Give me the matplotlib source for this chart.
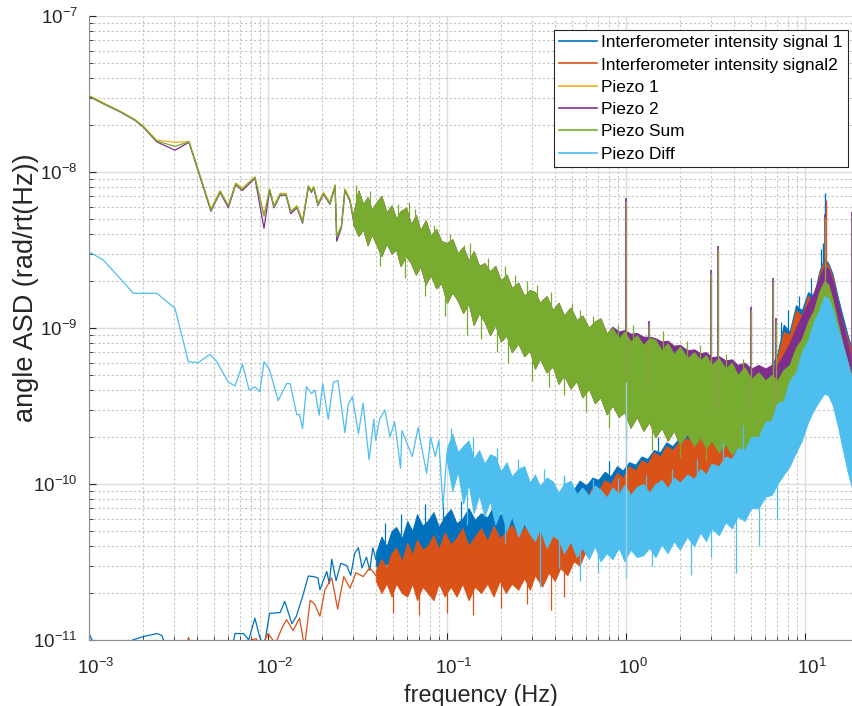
import matplotlib
matplotlib.use("Agg")
import matplotlib.pyplot as plt
import matplotlib.transforms as mtrans
import numpy as np

plt.rcParams['font.family'] = ['Liberation Sans', 'DejaVu Sans']
plt.rcParams['mathtext.fontset'] = 'custom'
plt.rcParams['mathtext.rm'] = 'Liberation Sans'

# --- colores tipo MATLAB ---
c_int1 = '#0072BD'
c_int2 = '#D95319'
c_pz1 = '#EDB120'
c_pz2 = '#7E2F8E'
c_sum = '#77AC30'
c_diff = '#4DBEEE'

labels = ['Interferometer intensity signal 1', 'Interferometer intensity signal2',
          'Piezo 1', 'Piezo 2', 'Piezo Sum', 'Piezo Diff']
x_ticks = [1e-3, 1e-2, 1e-1, 1e0, 1e1]

# ---------------- datos ----------------
# zona de baja frecuencia: puntos sueltos (rad/rt(Hz))
int1_f = [1.0e-3, 1.05e-3, 1.3e-3, 1.6e-3, 1.75e-3, 2.0e-3, 2.4e-3, 2.55e-3, 2.7e-3, 3.5e-3,
          5e-3, 6.3e-3, 6.55e-3, 7.3e-3, 7.8e-3, 8.45e-3, 9.0e-3, 9.5e-3, 1.02e-2, 1.17e-2,
          1.24e-2, 1.36e-2, 1.44e-2, 1.56e-2, 1.68e-2, 1.8e-2, 1.9e-2, 1.95e-2, 2.13e-2, 2.2e-2,
          2.27e-2, 2.4e-2, 2.55e-2, 2.75e-2, 2.9e-2, 3.05e-2, 3.2e-2, 3.35e-2, 3.55e-2, 3.7e-2,
          3.85e-2, 4.0e-2]
int1_v = [1.1e-11, 9.8e-12, 7e-12, 8e-12, 1.0e-11, 1.05e-11, 1.1e-11, 1.07e-11, 9e-12, 6e-12,
          7e-12, 9e-12, 1.1e-11, 1.1e-11, 1.0e-11, 1.38e-11, 1.04e-11, 9e-12, 1.48e-11, 1.5e-11,
          1.77e-11, 1.27e-11, 1.42e-11, 1.9e-11, 2.57e-11, 2.55e-11, 2.5e-11, 2.1e-11, 2.75e-11, 2.3e-11,
          3.3e-11, 2.4e-11, 3.1e-11, 3.0e-11, 2.6e-11, 3.6e-11, 3.9e-11, 2.9e-11, 3.4e-11, 2.8e-11,
          3.9e-11, 3.3e-11]

int2_f = [3.4e-3, 3.6e-3, 3.8e-3, 7.5e-3, 8e-3, 8.6e-3, 9.2e-3, 1.0e-2, 1.1e-2, 1.2e-2,
          1.27e-2, 1.38e-2, 1.5e-2, 1.6e-2, 1.72e-2, 1.82e-2, 1.95e-2, 2.08e-2, 2.27e-2, 2.45e-2,
          2.65e-2, 2.87e-2, 3.1e-2, 3.4e-2, 3.7e-2, 4.0e-2]
int2_v = [8e-12, 1.04e-11, 8e-12, 9e-12, 1.0e-11, 1.02e-11, 9e-12, 1.1e-11, 9.5e-12, 1.2e-11,
          1.35e-11, 1.15e-11, 1.38e-11, 9e-12, 1.8e-11, 1.7e-11, 1.42e-11, 2.1e-11, 2.5e-11, 1.58e-11,
          2.55e-11, 2.15e-11, 2.7e-11, 2.55e-11, 2.9e-11, 2.6e-11]

pz_f = [1.0e-3, 1.2e-3, 1.49e-3, 1.81e-3, 2.01e-3, 2.39e-3, 3.02e-3, 3.62e-3, 4.8e-3, 5.4e-3,
        6.0e-3, 6.6e-3, 7.18e-3, 8.46e-3, 9.5e-3, 1.02e-2, 1.08e-2, 1.17e-2, 1.26e-2, 1.34e-2,
        1.45e-2, 1.56e-2, 1.68e-2, 1.75e-2, 1.8e-2, 1.9e-2, 2.04e-2, 2.22e-2, 2.37e-2, 2.42e-2,
        2.57e-2, 2.69e-2, 2.87e-2, 3.0e-2]
pz1_v = [3.1e-8, 2.78e-8, 2.46e-8, 2.17e-8, 1.97e-8, 1.6e-8, 1.55e-8, 1.57e-8, 5.8e-9, 7.6e-9,
         6.1e-9, 8.5e-9, 7.9e-9, 9.3e-9, 5.3e-9, 7.8e-9, 6.1e-9, 7.3e-9, 7.3e-9, 5.6e-9,
         6.1e-9, 4.9e-9, 8.2e-9, 7.6e-9, 8.1e-9, 6.3e-9, 7.4e-9, 6.4e-9, 8.3e-9, 3.9e-9,
         4.5e-9, 7.8e-9, 6.7e-9, 5.1e-9]
pz2_v = [3.05e-8, 2.74e-8, 2.43e-8, 2.14e-8, 1.94e-8, 1.56e-8, 1.38e-8, 1.55e-8, 5.6e-9, 7.4e-9,
         5.9e-9, 8.3e-9, 7.6e-9, 9.1e-9, 4.35e-9, 7.6e-9, 5.9e-9, 7.1e-9, 7.1e-9, 5.4e-9,
         5.9e-9, 4.7e-9, 8.0e-9, 7.4e-9, 7.9e-9, 6.1e-9, 7.2e-9, 6.2e-9, 8.1e-9, 3.6e-9,
         4.4e-9, 7.6e-9, 6.5e-9, 4.9e-9]
sum_v = [3.07e-8, 2.75e-8, 2.44e-8, 2.15e-8, 1.95e-8, 1.58e-8, 1.46e-8, 1.56e-8, 5.7e-9, 7.5e-9,
         6.05e-9, 8.4e-9, 7.75e-9, 9.25e-9, 5.2e-9, 7.75e-9, 6.0e-9, 7.2e-9, 7.2e-9, 5.57e-9,
         6.0e-9, 4.8e-9, 8.1e-9, 7.5e-9, 8.0e-9, 6.2e-9, 7.3e-9, 6.3e-9, 8.2e-9, 3.85e-9,
         4.47e-9, 7.7e-9, 6.6e-9, 5.0e-9]

diff_f = [1.0e-3, 1.2e-3, 1.55e-3, 1.77e-3, 2.39e-3, 3.02e-3, 3.59e-3, 4.08e-3, 4.74e-3, 5.17e-3,
          6.0e-3, 6.55e-3, 7.2e-3, 7.85e-3, 8.45e-3, 9.0e-3, 9.5e-3, 1.02e-2, 1.14e-2, 1.27e-2,
          1.33e-2, 1.45e-2, 1.5e-2, 1.56e-2, 1.64e-2, 1.75e-2, 1.83e-2, 1.93e-2, 2.02e-2, 2.17e-2,
          2.32e-2, 2.46e-2, 2.69e-2, 2.8e-2, 2.96e-2, 3.2e-2, 3.4e-2, 3.67e-2, 3.9e-2, 4.0e-2,
          4.2e-2, 4.5e-2, 4.8e-2, 5.1e-2, 5.5e-2, 5.6e-2, 6.0e-2, 6.4e-2, 6.9e-2, 7.3e-2,
          7.7e-2, 8.1e-2, 8.6e-2, 9.0e-2, 9.5e-2, 1.0e-1]
diff_v = [3.08e-9, 2.73e-9, 1.98e-9, 1.67e-9, 1.67e-9, 1.34e-9, 6.08e-10, 6.0e-10, 6.78e-10, 6.08e-10,
          4.5e-10, 4.25e-10, 5.85e-10, 4.0e-10, 4.2e-10, 3.9e-10, 6.08e-10, 5.4e-10, 3.42e-10, 4.4e-10,
          4.4e-10, 2.77e-10, 2.8e-10, 2.27e-10, 4.2e-10, 3.8e-10, 4.0e-10, 2.76e-10, 4.4e-10, 2.6e-10,
          4.5e-10, 4.6e-10, 2.13e-10, 3.2e-10, 3.63e-10, 2.1e-10, 3.29e-10, 1.43e-10, 2.6e-10, 1.9e-10,
          2.6e-10, 2.98e-10, 2.0e-10, 2.5e-10, 1.26e-10, 2.2e-10, 1.8e-10, 1.5e-10, 2.3e-10, 1.6e-10,
          1.17e-10, 2.0e-10, 1.5e-10, 1.9e-10, 7.1e-11, 1.6e-10]

# zona densa (ruido): envolventes inferior / superior
# interferometro, en unidades de 1e-11
int_band_f = [0.040, 0.043, 0.046, 0.049, 0.052, 0.056, 0.060, 0.064, 0.068, 0.073,
              0.078, 0.084, 0.090, 0.097, 0.105, 0.113, 0.122, 0.132, 0.143, 0.155,
              0.168, 0.182, 0.197, 0.213, 0.23, 0.25, 0.27, 0.29, 0.31, 0.34,
              0.37, 0.40, 0.43, 0.47, 0.51, 0.55, 0.60, 0.65, 0.70, 0.76,
              0.82, 0.89, 0.96, 1.04, 1.13, 1.22, 1.32, 1.43, 1.55, 1.68,
              1.82, 2.0, 2.5, 3.0, 3.6, 4.3, 5.0, 6.0, 7.0, 7.6,
              8.2, 8.9, 9.6, 10.4, 11.2, 12.0, 12.8, 13.5, 14.3, 15.2,
              16.2, 17.3, 18.5]
int1_hi = [3.6, 4.6, 4.0, 5.0, 5.3, 4.5, 5.8, 5.0, 6.4, 5.4,
           5.8, 6.6, 5.3, 6.2, 6.9, 5.6, 6.0, 7.0, 5.9, 6.5,
           6.1, 7.3, 6.3, 6.8, 7.1, 6.6, 7.8, 7.0, 7.6, 8.6,
           7.8, 9.0, 8.5, 9.6, 9.2, 10.5, 9.8, 11.0, 10.6, 12.0,
           11.2, 13.0, 12.2, 13.8, 13.3, 15.0, 14.5, 16.5, 16.0, 18.5,
           17.5, 20, 21, 24, 26, 31, 36, 48, 68, 105,
           95, 140, 130, 170, 160, 230, 280, 260, 220, 160,
           120, 90, 70]
int1_lo = [3.0, 2.7, 3.1, 2.8, 3.2, 2.9, 3.2, 3.0, 3.4, 3.0,
           3.5, 3.1, 3.5, 3.2, 3.6, 3.3, 3.7, 3.3, 3.7, 3.4,
           3.8, 3.4, 3.9, 3.5, 4.0, 3.6, 4.1, 3.8, 4.3, 4.0,
           4.6, 4.3, 5.0, 4.7, 5.4, 5.2, 5.9, 5.7, 6.4, 6.2,
           6.9, 6.7, 7.4, 7.2, 7.9, 7.7, 8.4, 8.2, 9.0, 8.8,
           9.6, 9.4, 10, 11, 12, 13, 15, 18, 21, 23,
           25, 28, 31, 35, 39, 44, 48, 46, 42, 35,
           29, 24, 20]
int2_hi = [2.8, 3.3, 2.9, 3.6, 3.9, 3.2, 4.2, 3.5, 4.4, 3.8,
           4.0, 4.7, 3.8, 4.9, 4.1, 4.5, 5.2, 4.0, 4.6, 5.2,
           4.3, 5.4, 4.5, 4.9, 5.5, 4.6, 5.2, 5.8, 5.0, 6.4,
           5.6, 7.0, 6.2, 7.8, 7.0, 8.6, 8.0, 9.6, 9.0, 10.6,
           10.0, 11.8, 11.0, 13.0, 12.2, 14.2, 13.5, 16.0, 15.0, 17.5,
           16.5, 19, 20, 23, 25, 29, 34, 45, 64, 95,
           90, 130, 120, 160, 150, 220, 270, 250, 210, 150,
           110, 85, 65]
int2_lo = [2.4, 2.0, 2.3, 1.9, 2.3, 2.0, 1.9, 2.3, 1.8, 2.2,
           2.0, 1.8, 2.3, 1.9, 2.2, 1.9, 2.3, 1.8, 2.2, 2.0,
           2.3, 1.9, 2.4, 2.0, 2.3, 2.1, 2.5, 2.1, 2.6, 2.2,
           2.7, 2.4, 2.9, 2.6, 3.2, 3.0, 3.8, 4.0, 4.8, 5.0,
           5.6, 5.6, 6.2, 6.2, 6.8, 6.8, 7.4, 7.4, 8.0, 8.0,
           8.6, 8.6, 9.5, 10, 11, 12, 14, 16, 19, 21,
           23, 26, 29, 32, 36, 40, 44, 42, 38, 32,
           27, 22, 18]

# piezos, en unidades de 1e-9
pz_band_f = [0.030, 0.032, 0.034, 0.036, 0.038, 0.040, 0.043, 0.046, 0.049, 0.052,
             0.055, 0.059, 0.063, 0.067, 0.071, 0.076, 0.081, 0.087, 0.093, 0.10,
             0.107, 0.115, 0.123, 0.132, 0.141, 0.151, 0.162, 0.174, 0.186, 0.20,
             0.215, 0.23, 0.25, 0.27, 0.29, 0.31, 0.33, 0.36, 0.39, 0.42,
             0.45, 0.49, 0.53, 0.57, 0.62, 0.67, 0.72, 0.78, 0.84, 0.91,
             0.98, 1.06, 1.15, 1.25, 1.35, 1.46, 1.58, 1.71, 1.85, 2.0,
             2.2, 2.4, 2.6, 2.8, 3.0, 3.3, 3.6, 3.9, 4.2, 4.6,
             5.0, 5.5, 6.0, 6.5, 7.0, 7.6, 8.2, 8.9, 9.6, 10.4,
             11.2, 12.0, 12.8, 13.5, 14.3, 15.2, 16.2, 17.3, 18.5]
sum_hi = [5.4, 7.6, 6.2, 6.9, 5.7, 6.3, 7.0, 5.5, 6.1, 5.0,
          5.6, 5.9, 4.6, 5.3, 4.2, 4.9, 3.9, 4.3, 3.6, 3.5,
          3.7, 3.0, 3.3, 2.7, 3.1, 2.5, 2.6, 2.3, 2.5, 2.0,
          2.2, 1.8, 1.95, 1.6, 1.75, 1.7, 1.45, 1.6, 1.3, 1.45,
          1.2, 1.35, 1.12, 1.2, 1.0, 1.1, 1.15, 0.92, 1.0, 0.86,
          0.95, 0.82, 0.9, 0.78, 0.86, 0.84, 0.72, 0.8, 0.68, 0.76,
          0.64, 0.7, 0.62, 0.67, 0.58, 0.64, 0.55, 0.6, 0.5, 0.56,
          0.47, 0.52, 0.46, 0.5, 0.46, 0.54, 0.58, 0.75, 0.85, 1.1,
          1.3, 1.7, 2.0, 1.9, 1.5, 1.1, 0.8, 0.6, 0.46]
sum_lo = [4.6, 3.9, 4.3, 3.4, 4.0, 3.5, 2.9, 3.5, 3.0, 3.2,
          2.5, 2.9, 2.6, 2.2, 2.5, 1.9, 2.2, 1.8, 1.95, 1.45,
          1.7, 1.5, 1.25, 1.45, 1.05, 1.25, 1.1, 0.9, 1.05, 0.82,
          0.9, 0.7, 0.8, 0.66, 0.72, 0.55, 0.64, 0.52, 0.57, 0.44,
          0.5, 0.41, 0.46, 0.36, 0.41, 0.33, 0.36, 0.28, 0.32, 0.27,
          0.29, 0.23, 0.27, 0.22, 0.25, 0.2, 0.23, 0.19, 0.22, 0.18,
          0.21, 0.175, 0.2, 0.17, 0.19, 0.16, 0.18, 0.155, 0.17, 0.15,
          0.16, 0.145, 0.155, 0.14, 0.15, 0.14, 0.145, 0.16, 0.22, 0.28,
          0.34, 0.4, 0.44, 0.42, 0.36, 0.28, 0.21, 0.16, 0.13]
pz2_hi = [5.4, 7.6, 6.2, 6.9, 5.7, 6.3, 7.0, 5.5, 6.1, 5.0,
          5.6, 5.9, 4.6, 5.3, 4.2, 4.9, 3.9, 4.3, 3.6, 3.5,
          3.7, 3.0, 3.3, 2.7, 3.1, 2.5, 2.6, 2.3, 2.5, 2.0,
          2.2, 1.8, 1.95, 1.6, 1.75, 1.7, 1.45, 1.6, 1.3, 1.45,
          1.2, 1.35, 1.12, 1.2, 1.0, 1.1, 1.15, 0.92, 1.02, 0.95,
          0.97, 0.92, 0.93, 0.88, 0.88, 0.86, 0.82, 0.83, 0.77, 0.78,
          0.72, 0.73, 0.69, 0.7, 0.65, 0.66, 0.62, 0.63, 0.58, 0.6,
          0.55, 0.58, 0.55, 0.58, 0.58, 0.68, 0.8, 1.0, 1.2, 1.45,
          1.7, 2.1, 2.5, 2.4, 2.0, 1.5, 1.1, 0.8, 0.55]
pz2_lo = sum_lo
pz1_hi = sum_hi
pz1_lo = sum_lo

# piezo diff, en unidades de 1e-10 (hi) y 1e-11 (lo)
diff_band_f = [0.10, 0.107, 0.115, 0.123, 0.132, 0.141, 0.151, 0.162, 0.174, 0.186,
               0.20, 0.215, 0.23, 0.25, 0.27, 0.29, 0.31, 0.33, 0.36, 0.39,
               0.42, 0.45, 0.49, 0.53, 0.57, 0.62, 0.67, 0.72, 0.78, 0.84,
               0.91, 0.98, 1.06, 1.15, 1.25, 1.35, 1.46, 1.58, 1.71, 1.85,
               2.0, 2.2, 2.4, 2.6, 2.8, 3.0, 3.3, 3.6, 3.9, 4.2,
               4.6, 5.0, 5.5, 6.0, 6.5, 7.0, 7.6, 8.2, 8.9, 9.6,
               10.4, 11.2, 12.0, 12.8, 13.5, 14.3, 15.2, 16.2, 17.3, 18.5]
diff_hi = [1.7, 2.1, 1.6, 1.75, 1.9, 1.45, 1.65, 1.35, 1.55, 1.5,
           1.2, 1.38, 1.12, 1.25, 1.3, 1.02, 1.15, 0.97, 1.1, 1.04,
           0.88, 1.0, 1.05, 0.86, 0.95, 0.84, 0.98, 0.92, 0.82, 0.95,
           0.86, 0.99, 0.85, 0.96, 1.0, 0.88, 1.0, 1.06, 0.94, 1.1,
           1.02, 1.15, 1.08, 1.25, 1.15, 1.35, 1.3, 1.5, 1.45, 1.7,
           1.65, 2.0, 2.0, 2.5, 2.55, 3.3, 3.4, 4.6, 5.2, 7.0,
           8.4, 11, 13, 16, 15.5, 13, 10, 7.8, 6.0, 4.4]
diff_lo = [14, 9, 12, 7.5, 10, 6.5, 8.5, 6.2, 7.8, 5.5,
           6.8, 5.0, 6.2, 4.6, 5.6, 4.8, 4.3, 5.2, 3.9, 4.7,
           4.4, 3.6, 4.3, 3.4, 3.9, 3.3, 4.0, 3.2, 3.6, 3.3,
           3.9, 3.2, 3.8, 3.4, 3.5, 3.9, 3.4, 4.1, 3.6, 4.3,
           3.8, 4.6, 4.0, 4.9, 4.3, 5.2, 4.7, 5.7, 5.2, 6.2,
           5.8, 7.0, 7.0, 8.3, 8.5, 10, 11.5, 13, 16, 19,
           25, 30, 34, 38, 37, 32, 24, 17, 12, 9]

# pelos de ruido que salen de la banda (frecuencia, punta)
sum_up_f = [0.031, 0.037, 0.044, 0.053, 0.061, 0.066, 0.085, 0.104, 0.125, 0.135, 0.17, 0.21,
            0.24, 0.28, 0.32, 0.38, 0.5, 0.55, 0.65, 0.9, 1.1, 1.6, 2.2, 2.6, 3.6, 4.5]
sum_up_v = [8.3e-9, 7.6e-9, 6.6e-9, 6.2e-9, 6.4e-9, 5.8e-9, 4.6e-9, 4.0e-9, 3.4e-9, 3.5e-9, 2.8e-9,
            2.5e-9, 2.2e-9, 2.0e-9, 1.9e-9, 1.7e-9, 1.45e-9, 1.3e-9, 1.2e-9, 1.05e-9, 1.05e-9, 9.5e-10,
            8.3e-10, 7.8e-10, 6.8e-10, 6.3e-10]
sum_dn_f = [0.042, 0.058, 0.075, 0.097, 0.13, 0.155, 0.19, 0.22, 0.3, 0.37, 0.45, 0.6, 0.8,
            1.0, 1.4, 2.0, 2.8]
sum_dn_v = [2.5e-9, 2.1e-9, 1.6e-9, 1.2e-9, 9.0e-10, 8.5e-10, 7.0e-10, 6.0e-10, 4.6e-10, 4.2e-10,
            3.7e-10, 2.9e-10, 2.3e-10, 1.9e-10, 1.65e-10, 1.5e-10, 1.4e-10]
diff_up_f = [0.105, 0.14, 0.19, 0.25, 0.35, 0.45, 0.65, 0.9, 1.3, 1.8, 2.5, 3.5, 4.5]
diff_up_v = [2.3e-10, 2.0e-10, 1.7e-10, 1.45e-10, 1.25e-10, 1.15e-10, 1.08e-10, 1.1e-10, 1.15e-10,
             1.25e-10, 1.45e-10, 1.85e-10, 2.4e-10]
diff_dn_f = [0.13, 0.21, 0.33, 0.42, 0.55, 0.7, 1.0, 1.4, 2.3, 3.0, 4.1, 5.5, 7.0]
diff_dn_v = [5.5e-11, 4.2e-11, 2.2e-11, 2.9e-11, 2.4e-11, 2.7e-11, 2.5e-11, 3.0e-11, 2.6e-11, 3.4e-11,
             2.7e-11, 4.0e-11, 6.0e-11]
int1_up_f = [0.045, 0.055, 0.075, 0.095, 0.12, 0.16, 0.3, 0.45, 0.8, 1.5, 7.3, 8.0, 9.2, 10.8, 12.3]
int1_up_v = [5.6e-11, 6.4e-11, 7.4e-11, 7.6e-11, 7.8e-11, 8.0e-11, 9.5e-11, 1.1e-10, 1.4e-10, 2.0e-10,
             1.1e-9, 1.3e-9, 1.6e-9, 2.1e-9, 3.2e-9]
int2_dn_f = [0.05, 0.07, 0.1, 0.14, 0.2, 0.28, 0.38, 0.45]
int2_dn_v = [1.5e-11, 1.45e-11, 1.5e-11, 1.45e-11, 1.6e-11, 1.7e-11, 1.55e-11, 1.9e-11]

# picos (lineas espectrales)
pz_spike_f = [1.0, 1.35, 2.97, 3.25, 5.0, 6.6, 6.9, 13.0, 18.2]
pz_spike_top = [6.5e-9, 1.05e-9, 2.25e-9, 3.2e-9, 1.3e-9, 2.0e-9, 1.1e-9, 5.1e-9, 5.3e-9]
pz_spike_base = [4e-10, 4e-10, 3e-10, 3e-10, 3e-10, 3e-10, 3e-10, 1e-9, 5e-10]
int1_spike_f = [12.6, 13.0]
int1_spike_top = [3.5e-9, 7.3e-9]
int2_spike_f = [13.1]
int2_spike_top = [6.6e-9]
diff_spike_f = [1.0]
diff_spike_lo = [2.5e-11]
diff_spike_hi = [4.5e-10]

# ---------------- figura ----------------
fig = plt.figure(figsize=(8.52, 7.06), dpi=100)
ax = fig.add_axes([89/852, 1 - 640/706, (852 - 89)/852, 624/706])

lw = 0.9
def borde(f, bf, v):
    # borde de la banda en f (solo para saber donde arranca cada pelo)
    return 10 ** np.interp(np.log10(f), np.log10(bf), np.log10(v))

def serie(f, v, bf, lo, hi, c, lab, z):
    ax.plot(f, v, color=c, lw=lw, label=lab, zorder=z)
    ax.fill_between(bf, lo, hi, color=c, lw=0.7, edgecolor=c, zorder=z)

def pelos(bf, edge, pf, pv, c, z):
    ax.vlines(pf, borde(pf, bf, edge), pv, color=c, lw=0.9, zorder=z)

u9 = 1e-9
u10 = 1e-10
u11 = 1e-11
i1_hi = np.array(int1_hi) * u11
i1_lo = np.array(int1_lo) * u11
i2_hi = np.array(int2_hi) * u11
i2_lo = np.array(int2_lo) * u11
s_hi = np.array(sum_hi) * u9
s_lo = np.array(sum_lo) * u9
p2_hi = np.array(pz2_hi) * u9
d_hi = np.array(diff_hi) * u10
d_lo = np.array(diff_lo) * u11

serie(int1_f, int1_v, int_band_f, i1_lo, i1_hi, c_int1, labels[0], 2)
pelos(int_band_f, i1_hi, int1_up_f, int1_up_v, c_int1, 2)
ax.vlines(int1_spike_f, 1e-9, int1_spike_top, color=c_int1, lw=1.0, zorder=2)

serie(int2_f, int2_v, int_band_f, i2_lo, i2_hi, c_int2, labels[1], 3)
pelos(int_band_f, i2_lo, int2_dn_f, int2_dn_v, c_int2, 3)
ax.vlines(int2_spike_f, 1e-9, int2_spike_top, color=c_int2, lw=1.0, zorder=3)

serie(pz_f, pz1_v, pz_band_f, np.array(pz1_lo) * u9, np.array(pz1_hi) * u9, c_pz1, labels[2], 4)
serie(pz_f, pz2_v, pz_band_f, np.array(pz2_lo) * u9, p2_hi, c_pz2, labels[3], 5)
ax.vlines(pz_spike_f, pz_spike_base, [t * 1.05 for t in pz_spike_top], color=c_pz2, lw=1.2, zorder=5)

serie(pz_f, sum_v, pz_band_f, s_lo, s_hi, c_sum, labels[4], 6)
pelos(pz_band_f, s_hi, sum_up_f, sum_up_v, c_sum, 6)
pelos(pz_band_f, s_lo, sum_dn_f, sum_dn_v, c_sum, 6)
ax.vlines(pz_spike_f, pz_spike_base, pz_spike_top, color='#8E9E48', lw=1.0, zorder=6)

serie(diff_f, diff_v, diff_band_f, d_lo, d_hi, c_diff, labels[5], 7)
pelos(diff_band_f, d_hi, diff_up_f, diff_up_v, c_diff, 7)
pelos(diff_band_f, d_lo, diff_dn_f, diff_dn_v, c_diff, 7)
ax.vlines(diff_spike_f, diff_spike_lo, diff_spike_hi, color='#9CCFE6', lw=1.0, zorder=7)

ax.set_xscale('log')
ax.set_yscale('log')
ax.set_xlim(1e-3, 18.3)
ax.set_ylim(1e-11, 1e-7)
ax.set_xticks(x_ticks)

ax.grid(True, which='major', color='#DCDCDC', lw=1.0, ls='-')
ax.grid(True, which='minor', color='#C4C4C4', lw=0.8, ls=(0, (2, 2)))
ax.set_axisbelow(True)
ax.tick_params(which='both', direction='in', colors='#262626', labelsize=13.5)
ax.tick_params(which='major', length=5)
ax.tick_params(which='minor', length=3)
ax.tick_params(axis='x', pad=13)
ax.tick_params(axis='y', pad=8)
ax.xaxis.set_minor_locator(matplotlib.ticker.LogLocator(subs=np.arange(2, 10), numticks=20))
ax.yaxis.set_minor_locator(matplotlib.ticker.LogLocator(subs=np.arange(2, 10), numticks=20))
ax.xaxis.set_minor_formatter(matplotlib.ticker.NullFormatter())
ax.yaxis.set_minor_formatter(matplotlib.ticker.NullFormatter())
for s in ['top', 'right']:
    ax.spines[s].set_visible(False)
for s in ['left', 'bottom']:
    ax.spines[s].set_color('#8C8C8C')

# etiquetas del eje x un poco a la derecha, como en MATLAB
corr = mtrans.ScaledTranslation(7/100, 0, fig.dpi_scale_trans)
for t in ax.get_xticklabels():
    t.set_transform(t.get_transform() + corr)

ax.set_xlabel('frequency (Hz)', fontsize=16.8, color='#262626')
ax.set_ylabel('angle ASD (rad/rt(Hz))', fontsize=19.5, color='#262626')
ax.xaxis.set_label_coords(0.514, -0.07)
ax.yaxis.set_label_coords(-0.066, 0.564)

leg = ax.legend(loc='upper right', bbox_to_anchor=(848/852, 1 - 30/706),
                bbox_transform=fig.transFigure, fontsize=12.4, frameon=True,
                fancybox=False, edgecolor='#262626', framealpha=1,
                handlelength=2.2, handletextpad=0.25, labelspacing=0.42,
                borderpad=0.3, borderaxespad=0)
leg.get_frame().set_linewidth(0.8)
for l in leg.get_lines():
    l.set_linewidth(1.2)

fig.savefig('out.png', dpi=100)
